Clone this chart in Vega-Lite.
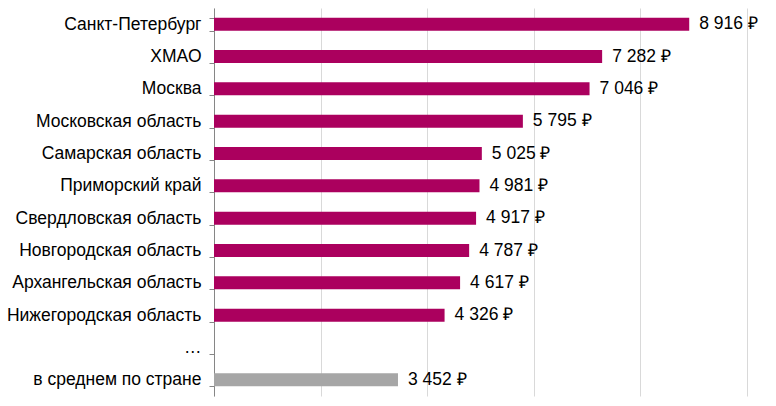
{
  "$schema": "https://vega.github.io/schema/vega-lite/v6.json",
  "width": 533,
  "height": 388,
  "autosize": {"type": "none"},
  "padding": {"left": 214, "top": 8, "right": 29, "bottom": 10},
  "background": "white",
  "config": {
    "view": {"stroke": null},
    "font": "Liberation Sans",
    "locale": {"number": {"decimal": ",", "thousands": "\u00a0", "grouping": [3], "currency": ["", "\u00a0\u20bd"]}}
  },
  "data": {"values": [
    {"region": "Санкт-Петербург", "value": 8916, "kind": "region"},
    {"region": "ХМАО", "value": 7282, "kind": "region"},
    {"region": "Москва", "value": 7046, "kind": "region"},
    {"region": "Московская область", "value": 5795, "kind": "region"},
    {"region": "Самарская область", "value": 5025, "kind": "region"},
    {"region": "Приморский край", "value": 4981, "kind": "region"},
    {"region": "Свердловская область", "value": 4917, "kind": "region"},
    {"region": "Новгородская область", "value": 4787, "kind": "region"},
    {"region": "Архангельская область", "value": 4617, "kind": "region"},
    {"region": "Нижегородская область", "value": 4326, "kind": "region"},
    {"region": "в среднем по стране", "value": 3452, "kind": "average"}
  ]},
  "encoding": {
    "y": {
      "field": "region", "type": "nominal", "title": null,
      "scale": {
        "domain": ["Санкт-Петербург", "ХМАО", "Москва", "Московская область", "Самарская область", "Приморский край", "Свердловская область", "Новгородская область", "Архангельская область", "Нижегородская область", "…", "в среднем по стране"],
        "paddingInner": 0.6, "paddingOuter": 0.3
      },
      "axis": {
        "domainColor": "#868686", "tickColor": "#868686", "tickSize": 5, "tickBand": "extent",
        "labelFontSize": 17.5, "labelColor": "#000000", "labelPadding": 8, "labelLimit": 300,
        "grid": false
      }
    },
    "x": {
      "field": "value", "type": "quantitative", "title": null,
      "scale": {"domain": [0, 10000], "nice": false},
      "axis": {
        "values": [0, 2000, 4000, 6000, 8000, 10000],
        "grid": true, "gridColor": "#d9d9d9", "domain": false, "ticks": false, "labels": false
      }
    }
  },
  "layer": [
    {
      "mark": {"type": "bar"},
      "encoding": {
        "color": {"field": "kind", "type": "nominal", "legend": null,
          "scale": {"domain": ["region", "average"], "range": ["#ab005e", "#a6a6a6"]}}
      }
    },
    {
      "mark": {"type": "text", "align": "left", "dx": 10, "fontSize": 17.5, "color": "#000000", "baseline": "middle"},
      "encoding": {"text": {"field": "value", "type": "quantitative", "format": "$,d"}}
    }
  ]
}
